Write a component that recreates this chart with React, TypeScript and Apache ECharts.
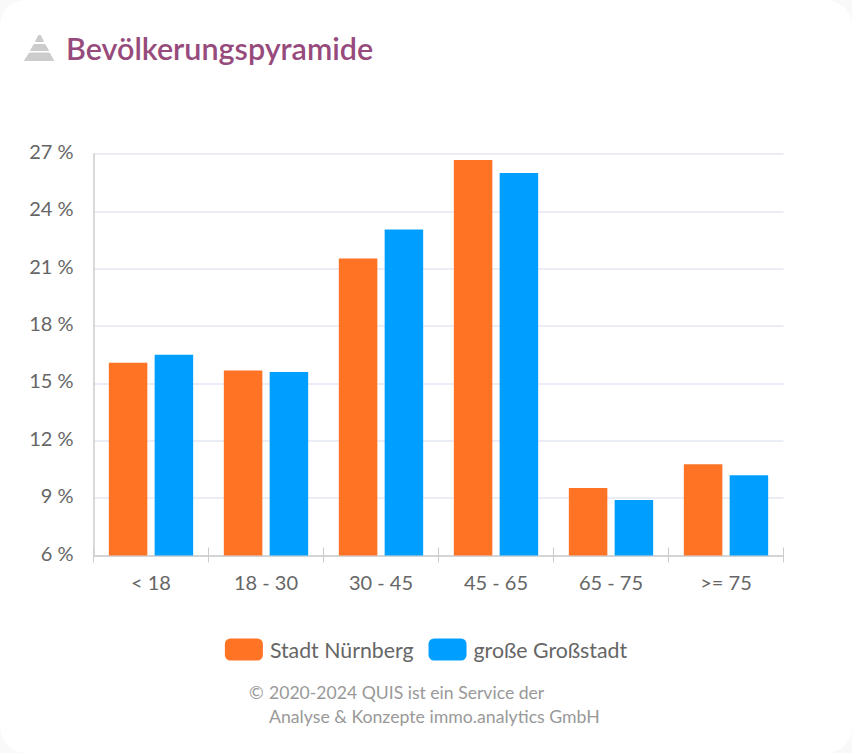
import React, { useEffect, useRef } from "react";
import * as echarts from "echarts";

const categories = ["< 18", "18 - 30", "30 - 45", "45 - 65", "65 - 75", ">= 75"];
const nuernberg = [16.08, 15.67, 21.53, 26.68, 9.53, 10.77];
const grossstadt = [16.5, 15.6, 23.05, 26.0, 8.9, 10.2];
const FONT = "Lato, 'Open Sans', sans-serif";

export default function App() {
  const ref = useRef<HTMLDivElement>(null);
  useEffect(() => {
    document.body.style.margin = "0";
    document.body.style.background = "#f9f9f9";
    const chart = echarts.init(ref.current!, null, { renderer: "svg" });
    chart.setOption({
      animation: false,
      backgroundColor: "transparent",
      textStyle: { fontFamily: FONT },
      grid: { left: 93.5, right: 68.5, top: 154, bottom: 197.5, containLabel: false },
      legend: {
        top: 633.5,
        left: "center",
        itemWidth: 38,
        itemHeight: 22,
        itemGap: 15,
        icon: "roundRect",
        textStyle: { fontFamily: FONT, fontSize: 21.3, color: "#666666", padding: [0, 0, 0, 2] },
        data: ["Stadt Nürnberg", "große Großstadt"],
      },
      xAxis: [
        {
          type: "category",
          data: categories,
          axisLine: { show: true, lineStyle: { color: "#cccccc", width: 1.5 } },
          axisTick: { show: true, length: 7, lineStyle: { color: "#cccccc", width: 1 } },
          axisLabel: { fontFamily: FONT, fontSize: 20, color: "#666666", margin: 16 },
        },
        {
          type: "category",
          position: "bottom",
          data: categories,
          axisLine: { show: false },
          axisTick: { show: true, inside: true, length: 8, lineStyle: { color: "#cccccc", width: 1 } },
          axisLabel: { show: false },
        },
      ],
      yAxis: {
        type: "value",
        min: 6,
        max: 27,
        interval: 3,
        axisLine: { show: true, lineStyle: { color: "#cccccc", width: 1.5 } },
        axisTick: { show: false },
        splitLine: { show: true, lineStyle: { color: "#e3e7f3", width: 1.5 } },
        axisLabel: { fontFamily: FONT, fontSize: 20, color: "#666666", margin: 20, verticalAlign: "bottom", lineHeight: 6, formatter: "{value} %" },
      },
      series: [
        { name: "Stadt Nürnberg", type: "bar", data: nuernberg, barWidth: 38.5, barGap: "19%", itemStyle: { color: "#ff7324" } },
        { name: "große Großstadt", type: "bar", data: grossstadt, barWidth: 38.5, barGap: "19%", itemStyle: { color: "#009fff" } },
      ],
      graphic: [
        { type: "rect", z: -10, silent: true, shape: { x: 0, y: 0, width: 852, height: 753, r: 26 }, style: { fill: "#ffffff" } },
        { type: "polygon", shape: { points: [[38.5, 35.5], [40.5, 35.5], [43.5, 41.5], [35.5, 41.5]] }, style: { fill: "#cccccc", stroke: "#cccccc", lineWidth: 1, lineJoin: "round" } },
        { type: "polygon", shape: { points: [[34, 44.5], [45, 44.5], [48.5, 50.5], [30.5, 50.5]] }, style: { fill: "#cccccc", stroke: "#cccccc", lineWidth: 1, lineJoin: "round" } },
        { type: "polygon", shape: { points: [[29.5, 53], [49.5, 53], [53.5, 60.5], [24.5, 60.5]] }, style: { fill: "#cccccc", stroke: "#cccccc", lineWidth: 1, lineJoin: "round" } },
        { type: "text", x: 66, y: 32, style: { text: "Bevölkerungspyramide", fontFamily: FONT, fontSize: 30.5, fontWeight: 600, fill: "#964b7c" } },
        { type: "text", x: 249, y: 683, style: { text: "©", fontFamily: FONT, fontSize: 17.7, fill: "#999999" } },
        { type: "text", x: 269, y: 683, style: { text: "2020-2024 QUIS ist ein Service der", fontFamily: FONT, fontSize: 17.6, fill: "#999999" } },
        { type: "text", x: 269, y: 707, style: { text: "Analyse & Konzepte immo.analytics GmbH", fontFamily: FONT, fontSize: 17.7, fill: "#999999" } },
      ],
    });
    return () => chart.dispose();
  }, []);
  return <div ref={ref} style={{ width: 852, height: 753 }} />;
}
